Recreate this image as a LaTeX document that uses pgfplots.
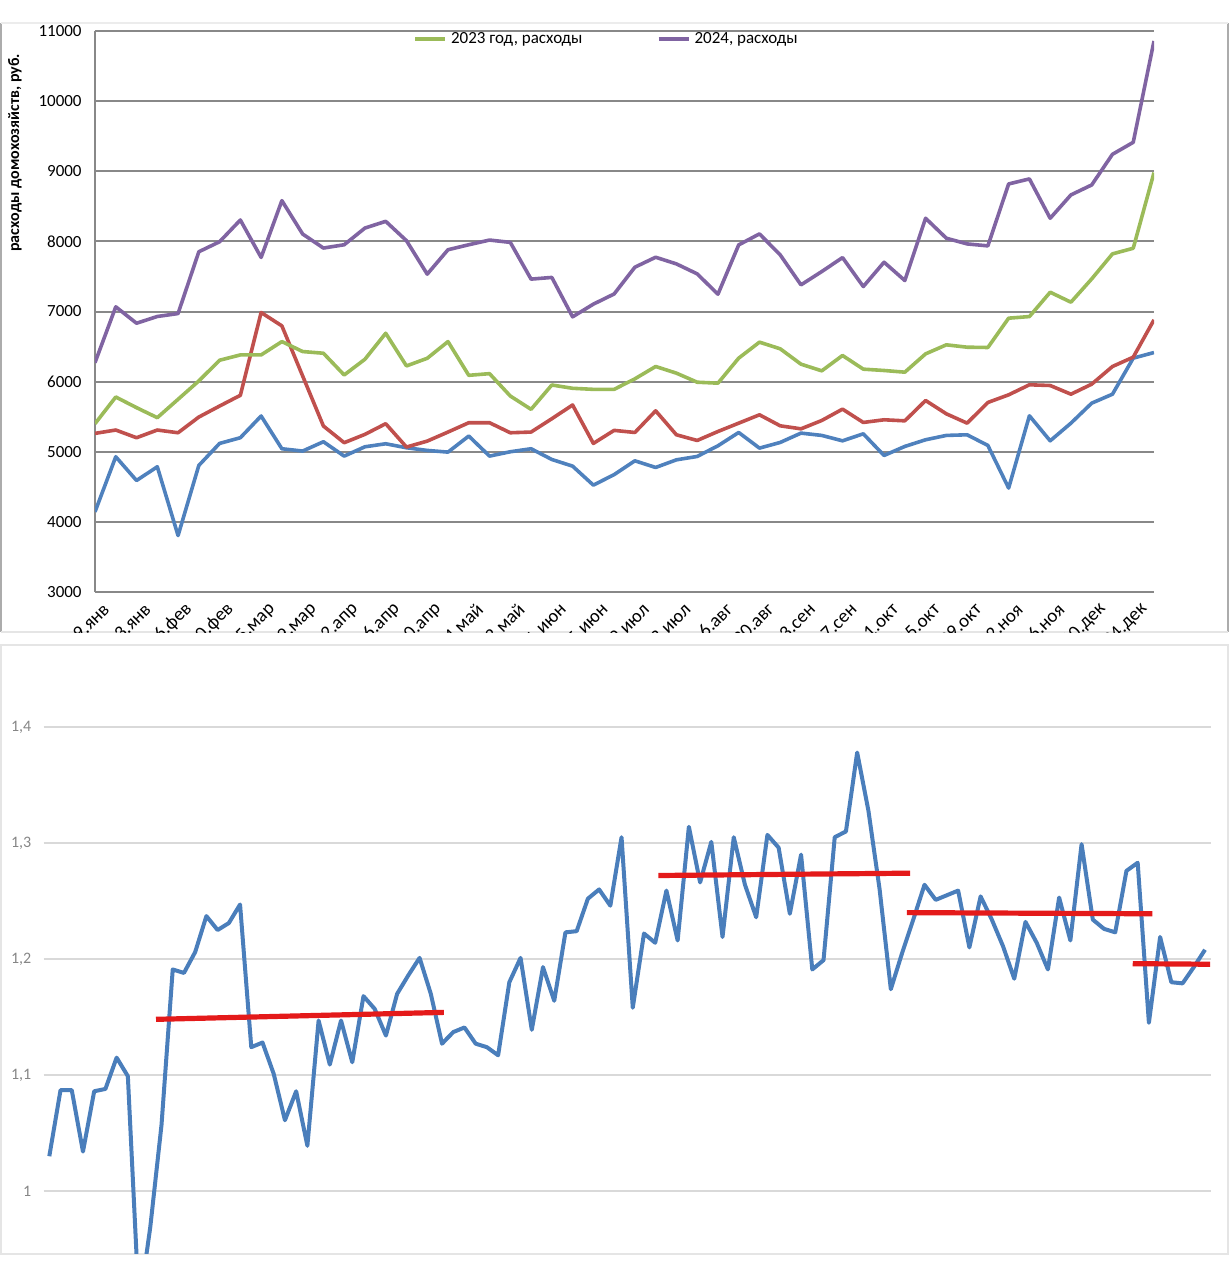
\documentclass[border=0pt]{standalone}
\usepackage{fontspec}
\setmainfont{Carlito}
\usepackage{pgfplots}
\usepackage{pgfplotstable}
\pgfplotsset{compat=1.18}
\definecolor{xblue}{HTML}{4F81BD}
\definecolor{xred}{HTML}{C0504D}
\definecolor{xgreen}{HTML}{9BBB59}
\definecolor{xpurple}{HTML}{8064A2}
\definecolor{gridtop}{HTML}{888888}
\definecolor{gridbot}{HTML}{D9D9D9}
\definecolor{bblue}{HTML}{4A7EBB}
\definecolor{tred}{HTML}{E41A1A}
\pgfplotstableread{
i blue red green purple
1 4143 5262 5400 6271
2 4929 5310 5781 7067
3 4590 5200 5629 6833
4 4786 5310 5486 6929
5 3805 5271 5748 6971
6 4805 5495 6010 7852
7 5119 5652 6305 7995
8 5200 5805 6381 8305
9 5510 6986 6381 7771
10 5043 6795 6571 8581
11 5010 6081 6429 8105
12 5143 5367 6405 7905
13 4938 5129 6095 7952
14 5071 5248 6319 8190
15 5114 5400 6690 8286
16 5057 5067 6224 8010
17 5019 5152 6333 7533
18 4995 5281 6571 7881
19 5224 5414 6090 7952
20 4938 5414 6114 8019
21 5000 5271 5795 7986
22 5043 5281 5605 7462
23 4890 5471 5952 7486
24 4795 5667 5905 6924
25 4524 5119 5890 7105
26 4674 5305 5890 7250
27 4871 5275 6040 7632
28 4776 5584 6216 7774
29 4885 5242 6121 7679
30 4933 5161 5992 7537
31 5085 5289 5978 7247
32 5275 5408 6335 7950
33 5052 5527 6563 8107
34 5133 5370 6468 7807
35 5266 5327 6249 7380
36 5233 5446 6154 7570
37 5156 5608 6373 7769
38 5256 5418 6178 7356
39 4947 5456 6159 7703
40 5076 5441 6135 7442
41 5171 5731 6396 8330
42 5233 5541 6525 8045
43 5242 5408 6491 7964
44 5090 5703 6487 7936
45 4482 5812 6905 8819
46 5513 5955 6928 8891
47 5156 5945 7275 8330
48 5408 5821 7133 8663
49 5693 5964 7465 8805
50 5821 6216 7822 9242
51 6335 6349 7902 9413
52 6415 6881 8981 10857
}\weekly
\pgfplotstableread{
i v
1 1.030
2 1.087
3 1.087
4 1.034
5 1.086
6 1.088
7 1.115
8 1.099
9 0.900
10 0.969
11 1.057
12 1.191
13 1.188
14 1.206
15 1.237
16 1.225
17 1.231
18 1.247
19 1.124
20 1.128
21 1.101
22 1.061
23 1.086
24 1.039
25 1.147
26 1.109
27 1.147
28 1.111
29 1.168
30 1.157
31 1.134
32 1.170
33 1.186
34 1.201
35 1.170
36 1.127
37 1.137
38 1.141
39 1.127
40 1.124
41 1.117
42 1.180
43 1.201
44 1.139
45 1.193
46 1.164
47 1.223
48 1.224
49 1.252
50 1.260
51 1.246
52 1.305
53 1.158
54 1.222
55 1.214
56 1.259
57 1.216
58 1.314
59 1.266
60 1.301
61 1.219
62 1.305
63 1.264
64 1.236
65 1.307
66 1.296
67 1.239
68 1.290
69 1.191
70 1.199
71 1.305
72 1.310
73 1.378
74 1.328
75 1.260
76 1.174
77 1.205
78 1.234
79 1.264
80 1.251
81 1.255
82 1.259
83 1.210
84 1.254
85 1.234
86 1.211
87 1.183
88 1.232
89 1.214
90 1.191
91 1.253
92 1.216
93 1.299
94 1.234
95 1.226
96 1.223
97 1.276
98 1.283
99 1.145
100 1.219
101 1.180
102 1.179
103 1.193
104 1.208
}\ratio
\begin{document}
\begin{tikzpicture}
\path[use as bounding box] (0,0) rectangle (614.5pt,-640pt);
% panel frames
\draw[gray!65, line width=0.8pt] (0.5pt,-11.5pt) -- (0.5pt,-316pt);
\draw[gray!65, line width=0.8pt] (614pt,-11.5pt) -- (614pt,-316pt);
\draw[gray!15, line width=0.6pt] (0.5pt,-11.5pt) -- (614pt,-11.5pt);
\draw[gray!20, line width=0.6pt] (0.5pt,-316pt) -- (614pt,-316pt);
\draw[gray!20, line width=0.6pt] (0.5pt,-322.5pt) rectangle (614pt,-627pt);
% top chart
\begin{scope}
\clip (0,0) rectangle (614.5pt,-316pt);
\begin{axis}[
  at={(47.5pt,-296pt)}, anchor=south west,
  scale only axis, width=529.5pt, height=280.5pt,
  xmin=1, xmax=52, ymin=3000, ymax=11000,
  ytick={3000,4000,...,11000},
  scaled y ticks=false,
  xtick={1,3,...,51},
  xticklabels={9.янв,23.янв,6.фев,20.фев,5.мар,19.мар,2.апр,16.апр,30.апр,14.май,28.май,11.июн,25.июн,9.июл,23.июл,6.авг,20.авг,3.сен,17.сен,1.окт,15.окт,29.окт,12.ноя,26.ноя,10.дек,24.дек},
  xticklabel style={rotate=45, anchor=east, font=\fontsize{9.5}{11}\selectfont, inner sep=1pt, yshift=-9pt, xshift=0pt},
  yticklabel style={font=\fontsize{8.5}{10}\selectfont, anchor=east, inner sep=0pt, xshift=-6.5pt},
  /pgf/number format/1000 sep={},
  /pgf/number format/assume math mode=true,
  major tick length=0pt,
  axis x line=bottom, axis y line=left,
  axis line style={draw=gridtop, line width=1pt, -},
  ymajorgrids, grid style={draw=gridtop, line width=1pt},
  legend style={at={(0.300,0.985)}, anchor=west, draw=none, fill=none, inner sep=0pt,
    font=\fontsize{8.5}{9.5}\selectfont, legend columns=2,
    /tikz/every even column/.append style={column sep=35pt}},
  legend image code/.code={\draw[#1, line width=2pt] (0pt,0pt) -- (15pt,0pt);},
  every axis plot/.append style={line width=1.8pt, line join=round},
]
\addplot[xblue, forget plot] table[x=i, y=blue] {\weekly};
\addplot[xred, forget plot] table[x=i, y=red] {\weekly};
\addplot[xgreen] table[x=i, y=green] {\weekly};
\addlegendentry{2023 год, расходы}
\addplot[xpurple] table[x=i, y=purple] {\weekly};
\addlegendentry{2024, расходы}
\end{axis}
\end{scope}
\node[rotate=90, font=\bfseries\fontsize{8}{9}\selectfont, inner sep=0pt] at (7.5pt,-76.5pt) {расходы домохозяйств, руб.};
% bottom chart
\begin{scope}
\clip (1pt,-323pt) rectangle (613.5pt,-626.6pt);
\begin{axis}[
  at={(21.85pt,-665.1pt)}, anchor=south west,
  scale only axis, width=583.45pt, height=330.6pt,
  xmin=0.5, xmax=104.5, ymin=0.88, ymax=1.45,
  ytick={1,1.1,1.2,1.3,1.4},
  xtick=\empty,
  yticklabel style={font=\fontsize{8}{9}\selectfont, text=gray!95, anchor=east, inner sep=0pt, xshift=-6pt},
  /pgf/number format/use comma,
  /pgf/number format/assume math mode=true,
  major tick length=0pt,
  axis line style={draw=none},
  ymajorgrids, grid style={draw=gridbot, line width=0.9pt},
  clip=false,
]
\addplot[bblue, line width=2pt, line join=round] table[x=i, y=v] {\ratio};
\addplot[tred, line width=2.6pt] coordinates {(10.51,1.148) (36.17,1.154)};
\addplot[tred, line width=2.6pt] coordinates {(55.28,1.272) (77.71,1.274)};
\addplot[tred, line width=2.6pt] coordinates {(77.42,1.240) (99.30,1.239)};
\addplot[tred, line width=2.6pt] coordinates {(97.56,1.196) (104.45,1.1955)};
\end{axis}
\end{scope}
\end{tikzpicture}
\end{document}
